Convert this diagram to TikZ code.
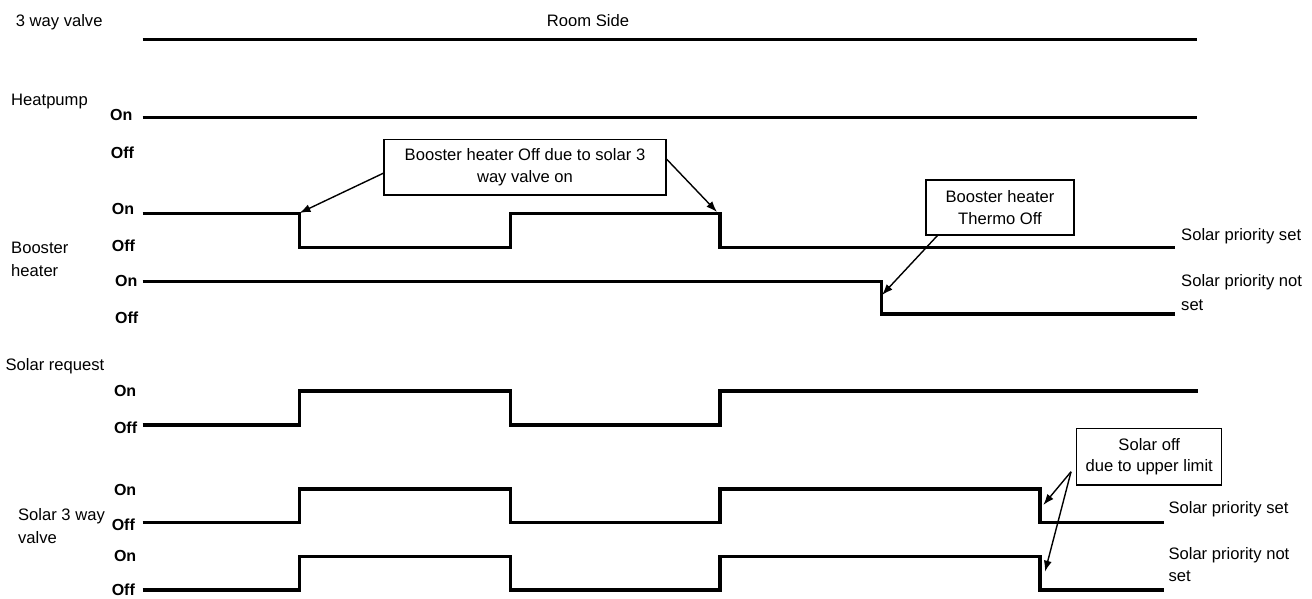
\documentclass[tikz,border=0pt]{standalone}
\usepackage{fontspec}
\setmainfont{Liberation Sans}
\usetikzlibrary{arrows.meta,calc}
\begin{document}
\begin{tikzpicture}[x=1pt,y=-1pt,
  lbl/.style={font=\fontsize{16.6}{19}\selectfont, inner sep=0pt, anchor=base west},
  stat/.style={font=\bfseries\fontsize{16}{19}\selectfont, inner sep=0pt, anchor=base west},
  sig/.style={line width=3.4pt, line join=miter},
  note/.style={draw, line width=1.3pt, inner sep=0pt, align=center},
  callout/.style={line width=1.4pt, -{Latex[length=11pt,width=8pt]}}]
\useasboundingbox (0,0) rectangle (1312,599);

% left labels
\node[lbl] (l3wv) at (15.6,26.5) {3 way valve};
\begin{scope}
\clip (0,0) rectangle (1312,25.5);
\node[lbl, anchor=base] (room) at (588,26.5) {Room Side};
\end{scope}
\node[lbl] (lhp) at (11,105.5) {Heatpump};
\node[lbl] (lbh1) at (11,253.3) {Booster};
\node[lbl] (lbh2) at (11,276.5) {heater};
\node[lbl] (lsr) at (5.4,370) {Solar request};
\node[lbl] (ls3a) at (17.9,520.7) {Solar 3 way};
\node[lbl] (ls3b) at (17.9,543.3) {valve};

% state labels
\node[stat] (hpon) at (110,120.5) {On};
\node[stat] (hpoff) at (110.7,158.5) {Off};
\node[stat] (b1on) at (111.7,214.5) {On};
\node[stat] (b1off) at (111.7,251.5) {Off};
\node[stat] (b2on) at (115,286.5) {On};
\node[stat] (b2off) at (115,323) {Off};
\node[stat] (sron) at (113.8,396.7) {On};
\node[stat] (sroff) at (113.8,433.3) {Off};
\node[stat] (v1on) at (113.8,495.7) {On};
\node[stat] (v1off) at (111.6,530) {Off};
\node[stat] (v2on) at (113.8,561.7) {On};
\node[stat] (v2off) at (111.6,595) {Off};

% right labels
\node[lbl] (r1) at (1181,240) {Solar priority set};
\node[lbl] (r2a) at (1181,286.5) {Solar priority not};
\node[lbl] (r2b) at (1181,310) {set};
\node[lbl] (r3) at (1168.3,513) {Solar priority set};
\node[lbl] (r4a) at (1168.3,559) {Solar priority not};
\node[lbl] (r4b) at (1168.3,581.5) {set};

% signals
\draw[sig] (142.7,39.3) -- (1197,39.3);
\draw[sig] (142.7,117.3) -- (1197,117.3);
\draw[sig] (142.7,213.5) -- (299.3,213.5) -- (299.3,247.5) -- (510.3,247.5) -- (510.3,213.5)
  -- (720,213.5) -- (720,247.5) -- (1175,247.5);
\draw[sig] (142.7,281.7) -- (881.7,281.7) -- (881.7,314) -- (1175,314);
\draw[sig] (142.7,425) -- (299.3,425) -- (299.3,391) -- (510.3,391) -- (510.3,425)
  -- (720,425) -- (720,391) -- (1198,391);
\draw[sig] (142.7,522.7) -- (299.3,522.7) -- (299.3,489) -- (510.3,489) -- (510.3,522.7)
  -- (720,522.7) -- (720,489) -- (1040,489) -- (1040,522.7) -- (1164,522.7);
\draw[sig] (142.7,590) -- (299.3,590) -- (299.3,556.7) -- (510.3,556.7) -- (510.3,590)
  -- (720,590) -- (720,556.7) -- (1040,556.7) -- (1040,590) -- (1164,590);

% callout boxes
\node[note, minimum width=282pt, minimum height=55.7pt, font=\fontsize{16.6}{22.8}\selectfont]
  (bbox) at (525,167.2) {Booster heater Off due to solar 3\\way valve on};
\node[note, minimum width=148pt, minimum height=55pt, font=\fontsize{16.6}{22.7}\selectfont]
  (tbox) at (1000,207.5) {Booster heater\\Thermo Off};
\node[note, minimum width=145pt, minimum height=56.7pt, font=\fontsize{16.6}{21}\selectfont]
  (sbox) at (1149.2,456.7) {Solar off\\due to upper limit};

% arrow targets
\coordinate (t1) at (299.5,213);
\coordinate (t2) at (717,212);
\coordinate (t3) at (882,295);
\coordinate (t4) at (1043.3,505);
\coordinate (t5) at (1045,571.7);
\coordinate (s5) at ($(sbox.west)+(-5,15)$);

\draw[callout] ($(bbox.west)+(0,6)$) -- (t1);
\draw[callout] ($(bbox.east)+(0,-8)$) -- (t2);
\draw[callout] ($(tbox.south west)+(12,0)$) -- (t3);
\draw[callout] (s5) -- (t4);
\draw[callout] (s5) -- (t5);
\end{tikzpicture}
\end{document}
